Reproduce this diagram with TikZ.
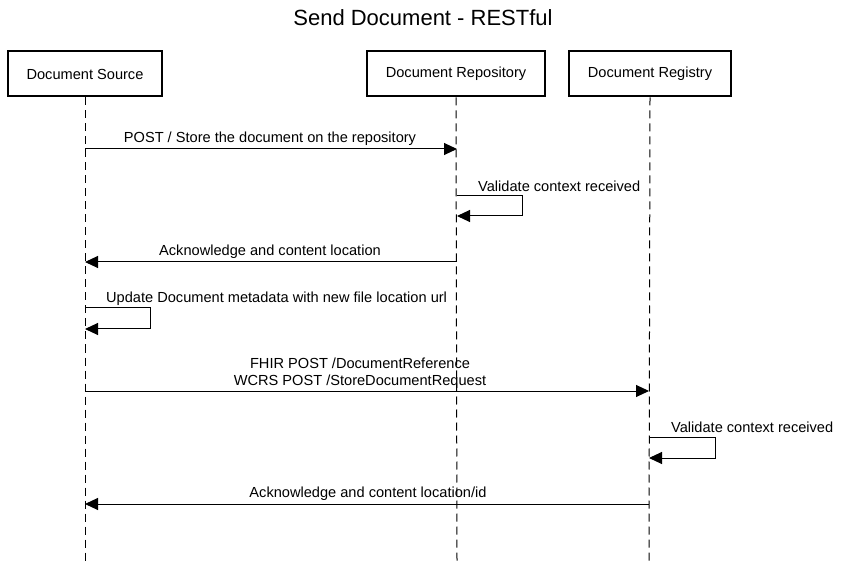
\documentclass[tikz,border=0pt]{standalone}
\usepackage{fontspec}
\setmainfont{Liberation Sans}
\usetikzlibrary{arrows.meta}
\begin{document}
\begin{tikzpicture}[x=1pt,y=-1pt,
  actor/.style={draw,line width=2pt,minimum height=45pt,inner sep=0pt,font=\fontsize{14.6}{17}\selectfont},
  lifeline/.style={line width=1pt,dash pattern=on 8pt off 5pt},
  msg/.style={line width=1pt,-{Triangle[length=13pt,width=12pt]}},
  lbl/.style={font=\fontsize{14.6}{17}\selectfont,inner sep=0pt}]
\useasboundingbox (0,0) rectangle (846,561);
\node[font=\fontsize{22}{26}\selectfont] (title) at (423,18) {Send Document - RESTful};
\node[actor,minimum width=154pt] (src) at (85,74) {Document Source};
\node[actor,minimum width=178pt] (rep) at (456,74) {Document Repository};
\node[actor,minimum width=162pt] (reg) at (650,74) {Document Registry};
\coordinate (srcE) at (85,561);
\coordinate (repE) at (457,561);
\coordinate (regE) at (649,561);
\draw[lifeline] (src.south) -- (srcE);
\draw[lifeline] (rep.south) -- (repE);
\draw[lifeline] (reg.south) -- (regE);
% message 1
\coordinate (m1a) at (85,149); \coordinate (m1b) at (457,149);
\draw[msg] (m1a) -- (m1b);
\node[lbl] (l1) at (270,139) {POST / Store the document on the repository};
% self loop repository
\coordinate (m2a) at (457,196); \coordinate (m2b) at (522,196);
\coordinate (m2c) at (522,216); \coordinate (m2d) at (457,216);
\draw[msg] (m2a) -- (m2b) -- (m2c) -- (m2d);
\node[lbl,anchor=west] (l2) at (478,186) {Validate context received};
% message 3
\coordinate (m3a) at (457,262); \coordinate (m3b) at (85,262);
\draw[msg] (m3a) -- (m3b);
\node[lbl] (l3) at (270,252) {Acknowledge and content location};
% self loop source
\coordinate (m4a) at (85,308); \coordinate (m4b) at (150,308);
\coordinate (m4c) at (150,329); \coordinate (m4d) at (85,329);
\draw[msg] (m4a) -- (m4b) -- (m4c) -- (m4d);
\node[lbl,anchor=west] (l4) at (106,299) {Update Document metadata with new file location url};
% message 5
\coordinate (m5a) at (85,391); \coordinate (m5b) at (649,391);
\draw[msg] (m5a) -- (m5b);
\node[lbl,align=center,font=\fontsize{14.6}{17}\selectfont] (l5) at (360,373.5) {FHIR POST /DocumentReference\\WCRS POST /StoreDocumentRequest};
% self loop registry
\coordinate (m6a) at (649,437); \coordinate (m6b) at (715,437);
\coordinate (m6c) at (715,458); \coordinate (m6d) at (649,458);
\draw[msg] (m6a) -- (m6b) -- (m6c) -- (m6d);
\node[lbl,anchor=west] (l6) at (671,427) {Validate context received};
% message 7
\coordinate (m7a) at (649,504); \coordinate (m7b) at (85,504);
\draw[msg] (m7a) -- (m7b);
\node[lbl] (l7) at (368,494) {Acknowledge and content location/id};
\end{tikzpicture}
\end{document}
